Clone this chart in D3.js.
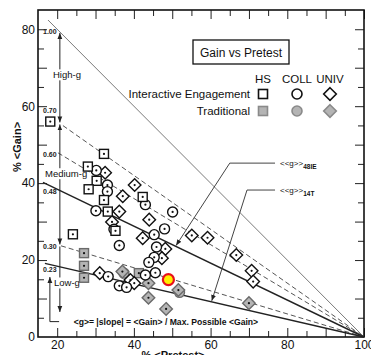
<!DOCTYPE html>
<html>
<head>
<meta charset="utf-8">
<script src="https://cdn.jsdelivr.net/npm/d3@7"></script>
<style>
  body { margin: 0; background: #fff; }
  svg { display: block; font-family: "Liberation Sans", Arial, sans-serif; }
</style>
</head>
<body>
<svg id="chart" width="371" height="355"></svg>
<script>
// [pretest %, gain %]
const hsIE = [[18.2, 56.0], [32.2, 47.6], [28.0, 44.3], [30.3, 40.6], [28.2, 38.4], [32.2, 35.6],
  [33.2, 32.6], [35.2, 27.6], [24.1, 26.7], [42.3, 36.4]];
const collIE = [[30.2, 43.3], [33.1, 39.5], [33.1, 37.8], [30.1, 32.8], [34.8, 28.0], [36.2, 23.8],
  [43.0, 34.4], [50.1, 32.5], [45.3, 26.6], [48.0, 28.1], [45.9, 23.4], [45.3, 20.7], [43.9, 19.4],
  [33.3, 15.7], [36.2, 13.3], [38.1, 12.9], [43.0, 16.1], [45.6, 16.7]];
const univIE = [[32.5, 42.7], [40.2, 39.5], [37.1, 36.6], [36.2, 32.6], [34.3, 29.9], [44.0, 30.5],
  [42.3, 25.7], [48.2, 22.9], [47.3, 20.5], [55.1, 26.4], [59.2, 25.8], [66.7, 21.3], [70.7, 17.2],
  [71.1, 14.4], [31.1, 16.6], [39.1, 14.8], [40.1, 14.0]];
const hsTrad = [[27.0, 21.8], [27.0, 18.5], [27.0, 15.4], [41.3, 16.6]];
const collTrad = [[37.4, 16.6], [51.9, 11.6]];
const univTrad = [[37.0, 17.0], [43.8, 14.0], [43.8, 10.2], [51.6, 12.2], [48.4, 7.3], [70.0, 8.8]];
const highlight = [[49.0, 14.9]];

const gValues = [1.00, 0.70, 0.60, 0.48, 0.30, 0.23];
const gLabels = ["1.00", "0.70", "0.60", "0.48", "0.30", "0.23"];
const xTicks = [20, 40, 60, 80, 100];
const yTicks = [0, 20, 40, 60, 80];
const legendCols = ["HS", "COLL", "UNIV"];
const legendRows = ["Interactive Engagement", "Traditional"];

const svg = d3.select("#chart");
const x = d3.scaleLinear().domain([15, 100]).range([38, 364]);
const y = d3.scaleLinear().domain([0, 85]).range([337, 10]);

// arrowhead
svg.append("defs").append("marker")
  .attr("id", "head").attr("viewBox", "0 0 10 10")
  .attr("refX", 10).attr("refY", 5)
  .attr("markerWidth", 6).attr("markerHeight", 6)
  .attr("orient", "auto-start-reverse")
  .append("path").attr("d", "M0,1 L10,5 L0,9 Z").attr("fill", "#222");

// ---- ticks all round, pointing inward
function tickRow(axis, tr, vals, len) {
  const g = svg.append("g").attr("transform", tr);
  g.call(axis.tickValues(vals).tickSize(len).tickFormat(""));
  g.select(".domain").remove();
  g.selectAll("line").attr("stroke", "#222");
}
tickRow(d3.axisTop(x), `translate(0,${y(0)})`, d3.range(20, 101, 10), 9);
tickRow(d3.axisTop(x), `translate(0,${y(0)})`, d3.range(25, 100, 10), 6);
tickRow(d3.axisBottom(x), `translate(0,${y(85)})`, d3.range(20, 101, 10), 9);
tickRow(d3.axisBottom(x), `translate(0,${y(85)})`, d3.range(25, 100, 10), 6);
tickRow(d3.axisRight(y), `translate(${x(15)},0)`, d3.range(10, 85, 10), 9);
tickRow(d3.axisRight(y), `translate(${x(15)},0)`, d3.range(5, 85, 10), 6);
tickRow(d3.axisLeft(y), `translate(${x(100)},0)`, d3.range(10, 85, 10), 9);
tickRow(d3.axisLeft(y), `translate(${x(100)},0)`, d3.range(5, 85, 10), 6);

// tick labels
const xl = svg.append("g").attr("transform", `translate(0,${y(0)})`)
  .call(d3.axisBottom(x).tickValues(xTicks).tickSize(0).tickPadding(3));
const yl = svg.append("g").attr("transform", `translate(${x(15)},0)`)
  .call(d3.axisLeft(y).tickValues(yTicks).tickSize(0).tickPadding(3));
[xl, yl].forEach(g => {
  g.select(".domain").remove();
  g.selectAll("text").attr("font-size", 12).attr("fill", "#111")
    .attr("font-family", "'Liberation Sans', Arial, sans-serif");
});

// frame
svg.append("rect")
  .attr("x", x(15)).attr("y", y(85))
  .attr("width", x(100) - x(15)).attr("height", y(0) - y(85))
  .attr("fill", "none").attr("stroke", "#111").attr("stroke-width", 1.6);

// ---- constant-g lines from (100, 0)
const lineFrom = [17.6, 21.5, 20.2, 16.3, 21.0, 16.8];
const lineStyle = [
  { c: "#7a7a7a", w: 1, d: null },
  { c: "#555", w: 1, d: "5,3" },
  { c: "#555", w: 1, d: "5,3" },
  { c: "#222", w: 1.4, d: null },
  { c: "#555", w: 1, d: "5,3" },
  { c: "#222", w: 1.4, d: null }
];
gValues.forEach((g, i) => {
  const x0 = lineFrom[i];
  svg.append("line")
    .attr("x1", x(x0)).attr("y1", y(g * (100 - x0)))
    .attr("x2", x(100)).attr("y2", y(0))
    .attr("stroke", lineStyle[i].c).attr("stroke-width", lineStyle[i].w)
    .attr("stroke-dasharray", lineStyle[i].d);
});

// g value labels, tucked at the left edge
const labelDy = [12, -15, 2, 9, 1, 6];
gValues.forEach((g, i) => {
  svg.append("text")
    .attr("x", x(16.3)).attr("y", y(g * (100 - lineFrom[i])) + labelDy[i])
    .attr("dy", "0.35em")
    .attr("font-size", 7).attr("font-weight", "bold").attr("fill", "#222")
    .text(gLabels[i]);
});

// ---- High / Medium / Low bands along x = 20.7
const bx = x(20.7);
const bandY = (g) => y(g * (100 - 20.7));
function arrow(x1, y1, x2, y2, both) {
  svg.append("line")
    .attr("x1", x1).attr("y1", y1).attr("x2", x2).attr("y2", y2)
    .attr("stroke", "#222").attr("stroke-width", 1)
    .attr("marker-end", "url(#head)")
    .attr("marker-start", both ? "url(#head)" : null);
}
arrow(bx, bandY(1.0) + 1, bx, bandY(0.70) - 1, true);
arrow(bx, bandY(0.70) + 1, bx, bandY(0.30) - 1, true);
arrow(bx, bandY(0.30) + 1, bx, y(6.5), false);

function bandText(t, tx, ty) {
  const el = svg.append("text").attr("x", tx).attr("y", ty).attr("dy", "0.35em")
    .attr("font-size", 9.5).attr("fill", "#111").text(t);
  const b = el.node().getBBox();
  svg.insert("rect", () => el.node())
    .attr("x", b.x - 1).attr("y", b.y).attr("width", b.width + 2).attr("height", b.height)
    .attr("fill", "#fff");
}
bandText("High-g", 53, y(68.1));
bandText("Medium-g", 45, y(42.4));
bandText("Low-g", 54, y(14.0));

// formula with its pointer
const fx = x(18.1);
svg.append("polyline")
  .attr("points", `${x(20.5)},${y(4.0)} ${fx},${y(4.0)} ${fx},${y(15.6)}`)
  .attr("fill", "none").attr("stroke", "#222").attr("stroke-width", 1)
  .attr("marker-end", "url(#head)");
svg.append("text")
  .attr("x", x(24.3)).attr("y", y(4.0)).attr("dy", "0.35em")
  .attr("font-size", 8.6).attr("font-weight", "bold").attr("fill", "#111")
  .text("<g>= |slope| = <Gain> / Max. Possible <Gain>");

// ---- <<g>> callouts
const callouts = [
  { g: 0.48, tip: 51.0, knee: [65.0, 45.2], sub: "48IE" },
  { g: 0.23, tip: 60.3, knee: [69.5, 38.2], sub: "14T" }
];
callouts.forEach(c => {
  const end = 76.8;
  svg.append("polyline")
    .attr("points", `${x(end)},${y(c.knee[1])} ${x(c.knee[0])},${y(c.knee[1])} ${x(c.tip)},${y(c.g * (100 - c.tip)) - 1}`)
    .attr("fill", "none").attr("stroke", "#444").attr("stroke-width", 1)
    .attr("marker-end", "url(#head)");
  const t = svg.append("text").attr("x", x(end) + 5).attr("y", y(c.knee[1]) + 3)
    .attr("font-size", 8).attr("fill", "#111");
  t.append("tspan").text("<<g>>");
  t.append("tspan").attr("dy", 3).attr("font-size", 6.5).attr("font-weight", "bold").text(c.sub);
});

// ---- data marks
function mark(g, shape) {
  if (shape === "sq") g.append("rect").attr("x", -4.5).attr("y", -4.5).attr("width", 9).attr("height", 9);
  else if (shape === "ci") g.append("circle").attr("r", 5);
  else g.append("path").attr("d", "M0,-6.3L6.3,0L0,6.3L-6.3,0Z");
}
function series(data, shape, trad) {
  const g = svg.append("g").selectAll("g").data(data).join("g")
    .attr("transform", d => `translate(${x(d[0])},${y(d[1])})`);
  g.each(function () { mark(d3.select(this), shape); });
  g.selectAll("rect,circle,path")
    .attr("fill", trad ? "#b4b4b4" : "#fff")
    .attr("stroke", trad ? "#6a6a6a" : "#111")
    .attr("stroke-width", 1.4);
  g.append("circle").attr("r", 1.1).attr("fill", "#111");
}
series(hsTrad, "sq", true);
series(collTrad, "ci", true);
series(univTrad, "di", true);
series(univIE, "di", false);
series(collIE, "ci", false);
series(hsIE, "sq", false);

svg.append("g").selectAll("circle").data(highlight).join("circle")
  .attr("cx", d => x(d[0])).attr("cy", d => y(d[1])).attr("r", 5.5)
  .attr("fill", "#ffee00").attr("stroke", "#e8101a").attr("stroke-width", 2.2);

// ---- legend
svg.append("rect").attr("x", 193).attr("y", 40).attr("width", 96).attr("height", 24)
  .attr("fill", "#fff").attr("stroke", "#111").attr("stroke-width", 1.3);
svg.append("text").attr("x", 241).attr("y", 56.5).attr("text-anchor", "middle")
  .attr("font-size", 12).attr("fill", "#111").text("Gain vs Pretest");

const colX = [263, 297, 330];
const shapes = ["sq", "ci", "di"];
legendCols.forEach((c, i) => {
  svg.append("text").attr("x", colX[i]).attr("y", 83).attr("text-anchor", "middle")
    .attr("font-size", 11.5).attr("fill", "#111").text(c);
});
legendRows.forEach((r, j) => {
  const ry = 94 + j * 17;
  svg.append("text").attr("x", 250).attr("y", ry).attr("dy", "0.35em").attr("text-anchor", "end")
    .attr("font-size", 11.5).attr("fill", "#111").text(r);
  shapes.forEach((s, i) => {
    const g = svg.append("g").attr("transform", `translate(${colX[i]},${ry})`);
    mark(g, s);
    g.selectAll("*").attr("fill", j ? "#b4b4b4" : "#fff")
      .attr("stroke", j ? "#8a8a8a" : "#111").attr("stroke-width", 1.6);
  });
});

// ---- axis titles
svg.append("text").attr("transform", "translate(21,147) rotate(-90)")
  .attr("text-anchor", "middle").attr("font-size", 11).attr("font-weight", "bold")
  .attr("fill", "#111").text("% <Gain>");
svg.append("text").attr("x", 173).attr("y", 359).attr("text-anchor", "middle")
  .attr("font-size", 11).attr("font-weight", "bold").attr("fill", "#111").text("% <Pretest>");
</script>
</body>
</html>
